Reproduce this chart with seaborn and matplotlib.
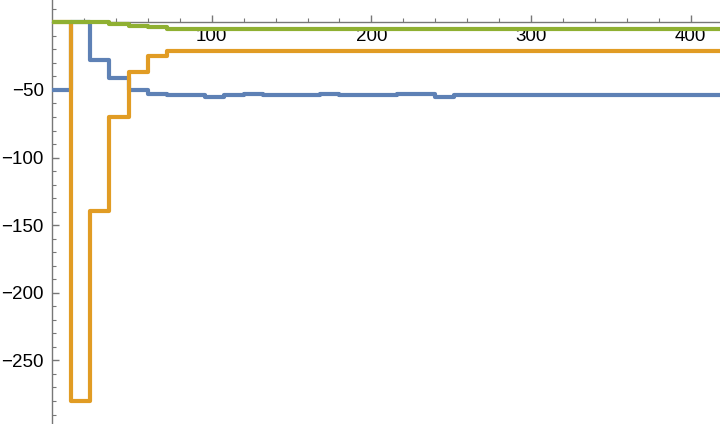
import numpy as np
import pandas as pd
import matplotlib
matplotlib.use('Agg')
import matplotlib.pyplot as plt
import seaborn as sns

# step edges every 12 units
step_x = list(range(0, 421, 12))

blue_vals = [-50, 0, -28, -41.5, -49.7, -53.2, -53.7, -53.9, -54.9, -53.7,
             -52.7, -53.7, -53.4, -53.9, -53.2, -53.7, -53.5, -53.5, -53.0, -53.0,
             -54.9] + [-53.9] * 15
orange_vals = [0, -280, -139.8, -70, -36.4, -24.8] + [-21.3] * 30
green_vals = [0, 0, 0, -1.2, -2.4, -3.6] + [-4.6] * 30

series_names = ['blue', 'orange', 'green']
series_colors = ['#5E81B5', '#E19C24', '#8FB032']

x_major = [100, 200, 300, 400]
y_major = [-250, -200, -150, -100, -50]

frames = []
for name, vals in zip(series_names, [blue_vals, orange_vals, green_vals]):
    frames.append(pd.DataFrame({'x': step_x, 'value': vals[:len(step_x)], 'series': name}))
df = pd.concat(frames, ignore_index=True)

sns.set_style('white')
plt.rcParams['font.family'] = ['Liberation Sans', 'DejaVu Sans']

fig = plt.figure(figsize=(7.2, 4.24), dpi=100)
ax = fig.add_axes([52 / 720, 0, 1 - 52 / 720, 1])

sns.lineplot(data=df, x='x', y='value', hue='series', hue_order=series_names,
             palette=series_colors, drawstyle='steps-post', estimator=None,
             linewidth=3.0, legend=False, ax=ax)

ax.set_xlim(0, 418.3)
ax.set_ylim(-297, 16.5)

for s in ['top', 'right']:
    ax.spines[s].set_visible(False)
ax.spines['bottom'].set_position(('data', 0))
ax.spines['left'].set_position(('data', 0))
for s in ['bottom', 'left']:
    ax.spines[s].set_color('#777777')
    ax.spines[s].set_linewidth(1.0)
    ax.spines[s].set_zorder(0.5)

ax.set_xticks(x_major)
ax.set_xticklabels([str(v) for v in x_major])
ax.set_xticks([v for v in range(20, 420, 20) if v % 100], minor=True)
ax.set_yticks(y_major)
ax.set_yticklabels(['\u2212' + str(-v) for v in y_major])
ax.set_yticks([v for v in range(-290, 20, 10) if v % 50], minor=True)

ax.tick_params(which='both', direction='in', color='#777777', labelsize=13.5,
               bottom=True, left=True, labelcolor='black')
ax.tick_params(which='major', length=5, width=1)
ax.tick_params(which='minor', length=3, width=0.8)
ax.tick_params(axis='x', which='major', pad=4)
ax.tick_params(axis='y', which='major', pad=6)
ax.set_xlabel('')
ax.set_ylabel('')

fig.savefig('out.png', dpi=100)
